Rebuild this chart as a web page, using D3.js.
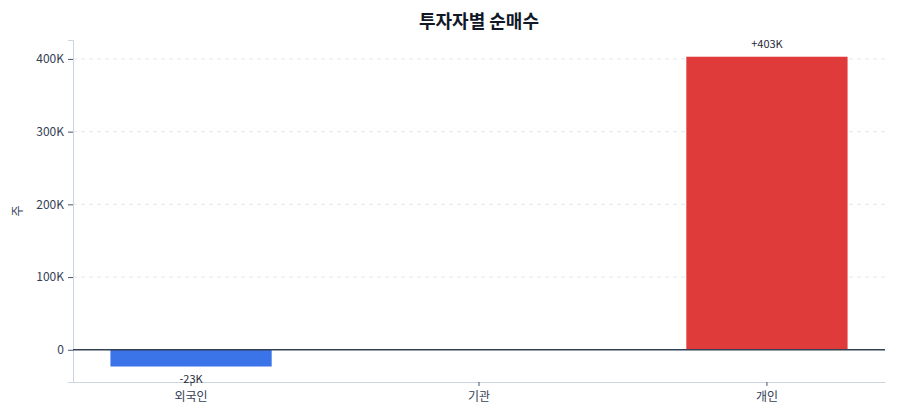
<!DOCTYPE html>
<html>
<head>
<meta charset="utf-8">
<script src="https://cdn.jsdelivr.net/npm/d3@7"></script>
<style>
  body { margin: 0; background: #fff; font-family: "Noto Sans CJK KR", "Noto Sans", sans-serif; }
</style>
</head>
<body>
<svg id="chart" width="900" height="420"></svg>
<script>
var investors = ["외국인", "기관", "개인"];
var netBuy = [-23000, 0, 403000];
var yTicks = [0, 100000, 200000, 300000, 400000];
var barColors = ["#3b73e8", "#9ca3af", "#e03b3b"];

var margin = {top: 40, right: 15, bottom: 38, left: 73};
var width = 900, height = 420;

var svg = d3.select("#chart");

var x = d3.scaleBand()
    .domain(investors)
    .range([margin.left, width - margin.right])
    .paddingInner(0.44)
    .paddingOuter(0.13);

var y = d3.scaleLinear()
    .domain([-44300, 426000])
    .range([height - margin.bottom, margin.top]);

var fmtK = function(v) { return v === 0 ? "0" : (v / 1000) + "K"; };

// grid
svg.append("g").selectAll("line").data(yTicks.filter(function(d) { return d !== 0; }))
  .enter().append("line")
    .attr("x1", margin.left).attr("x2", width - margin.right)
    .attr("y1", function(d) { return y(d); }).attr("y2", function(d) { return y(d); })
    .attr("stroke", "#e5e7eb").attr("stroke-dasharray", "4,4");

// y axis
var yAxis = svg.append("g")
    .attr("transform", "translate(" + margin.left + ",0)")
    .call(d3.axisLeft(y).tickValues(yTicks).tickFormat(fmtK).tickSize(5).tickPadding(4));
yAxis.select(".domain").attr("stroke", "#cbd5e1");
yAxis.selectAll(".tick line").attr("stroke", "#475569");
yAxis.selectAll("text").attr("fill", "#334155").style("font-size", "12px")
    .style("font-family", "'Noto Sans CJK KR', sans-serif");

// x axis
var xAxis = svg.append("g")
    .attr("transform", "translate(0," + (height - margin.bottom) + ")")
    .call(d3.axisBottom(x).tickSize(4).tickPadding(6).tickSizeOuter(0));
xAxis.select(".domain").attr("stroke", "#cbd5e1");
xAxis.selectAll(".tick line").attr("stroke", "#475569");
xAxis.selectAll("text").attr("fill", "#334155").style("font-size", "12px")
    .style("font-family", "'Noto Sans CJK KR', sans-serif");

// bars
var rows = investors.map(function(k, i) { return {name: k, value: netBuy[i], color: barColors[i]}; });

svg.append("g").selectAll("rect").data(rows.filter(function(d) { return d.value !== 0; }))
  .enter().append("rect")
    .attr("x", function(d) { return x(d.name); })
    .attr("width", x.bandwidth())
    .attr("y", function(d) { return y(Math.max(0, d.value)); })
    .attr("height", function(d) { return Math.abs(y(d.value) - y(0)); })
    .attr("fill", function(d) { return d.color; });

// zero line
svg.append("line")
    .attr("x1", margin.left).attr("x2", width - margin.right)
    .attr("y1", y(0)).attr("y2", y(0))
    .attr("stroke", "#334155").attr("stroke-width", 1.5);

// value labels
svg.append("g").selectAll("text").data(rows.filter(function(d) { return d.value !== 0; }))
  .enter().append("text")
    .attr("x", function(d) { return x(d.name) + x.bandwidth() / 2; })
    .attr("y", function(d) { return d.value > 0 ? y(d.value) - 9 : y(d.value) + 16; })
    .attr("text-anchor", "middle")
    .attr("fill", "#1f2937")
    .style("font-size", "11px")
    .style("font-family", "'Noto Sans CJK KR', sans-serif")
    .text(function(d) { return (d.value > 0 ? "+" : "") + fmtK(d.value); });

// title
svg.append("text")
    .attr("x", (margin.left + width - margin.right) / 2)
    .attr("y", 28)
    .attr("text-anchor", "middle")
    .attr("fill", "#111827")
    .style("font-size", "18px")
    .style("font-weight", "bold")
    .style("font-family", "'Noto Sans CJK KR', sans-serif")
    .text("투자자별 순매수");

// y label
svg.append("text")
    .attr("transform", "translate(22," + ((margin.top + height - margin.bottom) / 2) + ") rotate(-90)")
    .attr("text-anchor", "middle")
    .attr("fill", "#334155")
    .style("font-size", "12px")
    .style("font-family", "'Noto Sans CJK KR', sans-serif")
    .text("주");
</script>
</body>
</html>
